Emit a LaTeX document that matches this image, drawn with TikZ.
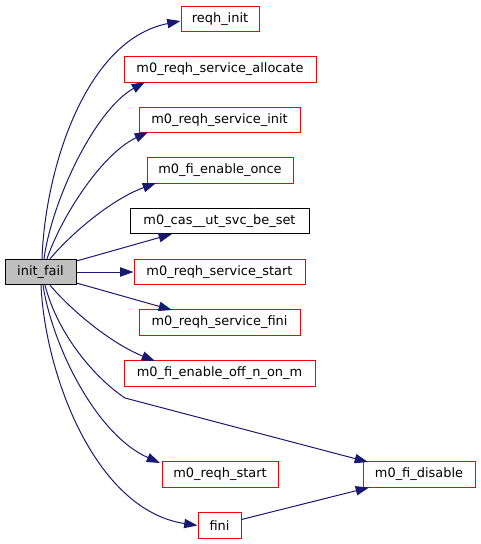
\documentclass[tikz,border=0pt]{standalone}
\usepackage{fontspec}
\setmainfont{DejaVu Sans}
\usetikzlibrary{arrows.meta}
\definecolor{edgeblue}{HTML}{191970}
\definecolor{nodegray}{HTML}{BFBFBF}
\tikzset{
  fnbox/.style={draw=red, fill=white, line width=0.75pt, inner sep=0pt, minimum height=19pt, font=\fontsize{9.7pt}{11pt}\selectfont},
  blackbox/.style={fnbox, draw=black},
  rootbox/.style={fnbox, draw=black, fill=nodegray},
  call/.style={draw=edgeblue, line width=0.75pt, -{Triangle[length=10pt,width=7pt]}, fill=none},
}
\begin{document}
\begin{tikzpicture}[x=0.75pt,y=-0.75pt]
\useasboundingbox (0,0) rectangle (481,544);
\node[rootbox, minimum width=53.25pt] (root) at (40.5,272) {init\_fail};
\node[fnbox, minimum width=58.5pt] (n1) at (220,19) {reqh\_init};
\node[fnbox, minimum width=144pt] (n2) at (220,69.5) {m0\_reqh\_service\_allocate};
\node[fnbox, minimum width=120.75pt] (n3) at (219.5,120) {m0\_reqh\_service\_init};
\node[fnbox, minimum width=109.5pt] (n4) at (220,170.5) {m0\_fi\_enable\_once};
\node[blackbox, minimum width=134.25pt] (n5) at (219.5,221) {m0\_cas\_\_ut\_svc\_be\_set};
\node[fnbox, minimum width=128.25pt] (n6) at (219.5,272) {m0\_reqh\_service\_start};
\node[fnbox, minimum width=120.75pt] (n7) at (219.5,322.5) {m0\_reqh\_service\_fini};
\node[fnbox, minimum width=143.25pt] (n8) at (219.5,373.5) {m0\_fi\_enable\_off\_n\_on\_m};
\node[fnbox, minimum width=87pt] (n9) at (220,474.5) {m0\_reqh\_start};
\node[fnbox, minimum width=84pt] (n10) at (419,474.5) {m0\_fi\_disable};
\node[fnbox, minimum width=32.25pt] (n11) at (219.5,525.5) {fini};
\coordinate (bend) at (125,398);

\draw[call] (root.north) ++(1.5,0) .. controls (45,170) and (85,40) .. (n1.west |- 0,21);
\draw[call] (root.north) ++(3.5,0) .. controls (52,200) and (95,110) .. (145,82);
\draw[call] (root.north) ++(6.5,0) .. controls (60,220) and (100,155) .. (148,132);
\draw[call] (root.north) ++(9.5,0) .. controls (70,235) and (110,200) .. (156,183);
\draw[call] (root.east) ++(0,-11) -- (172,234);
\draw[call] (root.east) -- (n6.west);
\draw[call] (root.east) ++(0,11) -- (172,310);
\draw[call] (root.south) ++(9.5,0) .. controls (70,309) and (110,343) .. (155,361);
\draw[call] (root.south) ++(4.5,0) .. controls (58,335) and (95,378) .. (bend) -- (368,462);
\draw[call] (root.south) ++(2.5,0) .. controls (52,344) and (95,434) .. (160,463);
\draw[call] (root.south) ++(0.5,0) .. controls (45,374) and (95,510) .. (n11.west);
\draw[call] (n11.east) ++(0,-6) -- (369,487.5);
\end{tikzpicture}
\end{document}
